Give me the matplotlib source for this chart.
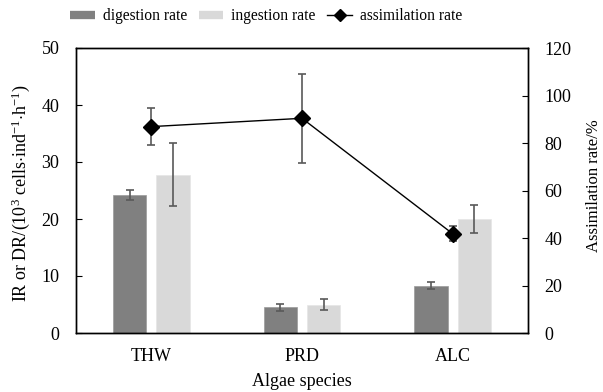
import numpy as np
import matplotlib
matplotlib.use("Agg")
import matplotlib.pyplot as plt
from matplotlib.lines import Line2D

plt.rcParams['font.family'] = ['Liberation Serif', 'DejaVu Serif']
plt.rcParams['font.size'] = 13
plt.rcParams['mathtext.fontset'] = 'custom'
plt.rcParams['mathtext.rm'] = 'Liberation Serif'
plt.rcParams['mathtext.it'] = 'Liberation Serif:italic'

# data
species = ["THW", "PRD", "ALC"]
digestion = [24.2, 4.5, 8.3]
digestion_err = [0.9, 0.6, 0.65]
ingestion = [27.8, 5.0, 20.0]
ingestion_err = [5.6, 1.05, 2.4]
assimilation = [86.9, 90.4, 41.8]
assimilation_err = [7.8, 18.7, 3.2]

x = np.arange(len(species))
w = 0.222
off = 0.144

fig = plt.figure(figsize=(6.03, 3.92), dpi=100)
ax = fig.add_axes([76/603, 1-333/392, 452/603, 285/392])

ekw = dict(ecolor="#595959", elinewidth=1.2, capsize=3, capthick=1.2)
ax.bar(x-off, digestion, w, yerr=digestion_err, color="#808080",
       edgecolor="#9a9a9a", linewidth=0.5, error_kw=ekw)
ax.bar(x+off, ingestion, w, yerr=ingestion_err, color="#d9d9d9",
       edgecolor="#e6e6e6", linewidth=0.5, error_kw=ekw)
ax.set_xlim(-0.5, 2.5)
ax.set_ylim(0, 50)
ax.set_yticks([0, 10, 20, 30, 40, 50])
ax.set_xticks(x)
ax.set_xticklabels(species)
ax.tick_params(axis="x", length=0, pad=11)
ax.tick_params(axis="y", direction="in", length=4, pad=12)
ax.set_xlabel("Algae species")
ax.xaxis.set_label_coords(0.5, -(382-333)/285)
ax.xaxis.label.set_va("center")
ax.set_ylabel(r"IR or DR/(10$^{3}$ cells$\cdot$ind$^{-1}$$\cdot$h$^{-1}$)")
ax.yaxis.set_label_coords(-(76-21)/452, (333-193)/285)
ax.yaxis.label.set_va("center")

ax2 = ax.twinx()
ax2.errorbar(x, assimilation, yerr=assimilation_err, color="black", lw=1,
             marker="D", markersize=8, ecolor="#595959", elinewidth=1.2,
             capsize=3, capthick=1.2, zorder=5)
ax2.set_ylim(0, 120)
ax2.set_yticks(range(0, 121, 20))
ax2.tick_params(axis="y", direction="in", length=4, pad=12)
ax2.set_ylabel("Assimilation rate/%", fontsize=12)
ax2.yaxis.set_label_coords((594-76)/452, (333-186)/285)
ax2.yaxis.label.set_va("center")

for a in (ax, ax2):
    for s in a.spines.values():
        s.set_linewidth(1.0)

handles = [Line2D([], [], color="#808080", lw=6, solid_capstyle="butt"),
           Line2D([], [], color="#d9d9d9", lw=6, solid_capstyle="butt"),
           Line2D([], [], color="black", lw=1, marker="D", markersize=6)]
labels = ["digestion rate", "ingestion rate", "assimilation rate"]
fig.legend(handles, labels, loc="center left", bbox_to_anchor=(70/603, 1-16/392), ncol=3,
           frameon=False, handlelength=1.6, columnspacing=0.75, handletextpad=0.5,
           borderpad=0, borderaxespad=0, fontsize=11.2)

plt.savefig("out.png", dpi=100)
